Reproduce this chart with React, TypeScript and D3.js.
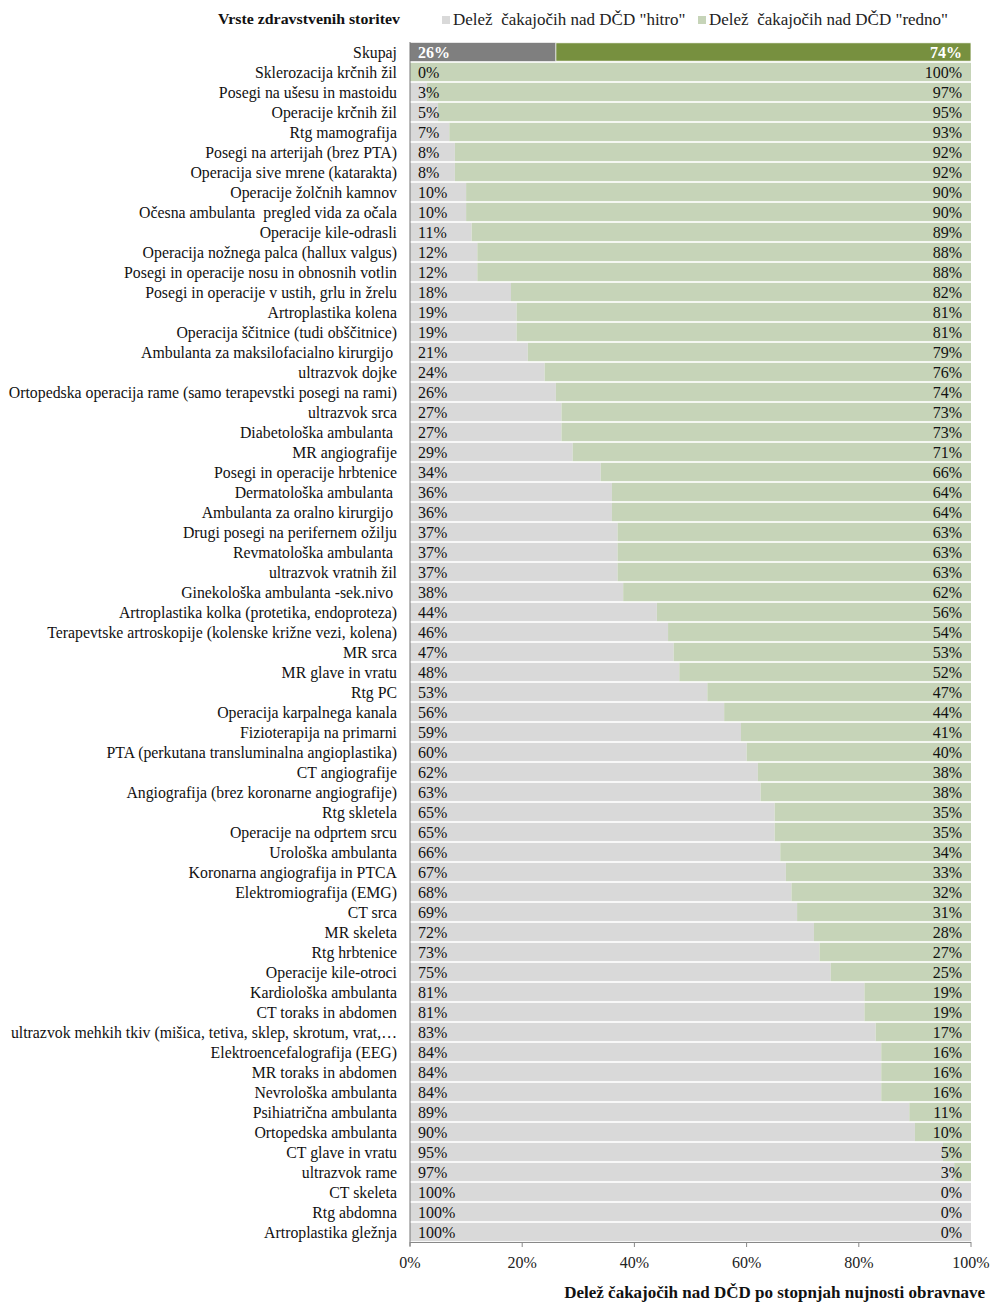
import React from "react";
import * as d3 from "d3";

// Service types, top to bottom
const categories: string[] = [
  "Skupaj",
  "Sklerozacija krčnih žil",
  "Posegi na ušesu in mastoidu",
  "Operacije krčnih žil",
  "Rtg mamografija",
  "Posegi na arterijah (brez PTA)",
  "Operacija sive mrene (katarakta)",
  "Operacije žolčnih kamnov",
  "Očesna ambulanta  pregled vida za očala",
  "Operacije kile-odrasli",
  "Operacija nožnega palca (hallux valgus)",
  "Posegi in operacije nosu in obnosnih votlin",
  "Posegi in operacije v ustih, grlu in žrelu",
  "Artroplastika kolena",
  "Operacija ščitnice (tudi obščitnice)",
  "Ambulanta za maksilofacialno kirurgijo ",
  "ultrazvok dojke",
  "Ortopedska operacija rame (samo terapevstki posegi na rami)",
  "ultrazvok srca",
  "Diabetološka ambulanta ",
  "MR angiografije",
  "Posegi in operacije hrbtenice",
  "Dermatološka ambulanta ",
  "Ambulanta za oralno kirurgijo ",
  "Drugi posegi na perifernem ožilju",
  "Revmatološka ambulanta ",
  "ultrazvok vratnih žil",
  "Ginekološka ambulanta -sek.nivo ",
  "Artroplastika kolka (protetika, endoproteza)",
  "Terapevtske artroskopije (kolenske križne vezi, kolena)",
  "MR srca",
  "MR glave in vratu",
  "Rtg PC",
  "Operacija karpalnega kanala",
  "Fizioterapija na primarni",
  "PTA (perkutana transluminalna angioplastika)",
  "CT angiografije",
  "Angiografija (brez koronarne angiografije)",
  "Rtg skletela",
  "Operacije na odprtem srcu",
  "Urološka ambulanta",
  "Koronarna angiografija in PTCA",
  "Elektromiografija (EMG)",
  "CT srca",
  "MR skeleta",
  "Rtg hrbtenice",
  "Operacije kile-otroci",
  "Kardiološka ambulanta",
  "CT toraks in abdomen",
  "ultrazvok mehkih tkiv (mišica, tetiva, sklep, skrotum, vrat,…",
  "Elektroencefalografija (EEG)",
  "MR toraks in abdomen",
  "Nevrološka ambulanta",
  "Psihiatrična ambulanta",
  "Ortopedska ambulanta",
  "CT glave in vratu",
  "ultrazvok rame",
  "CT skeleta",
  "Rtg abdomna",
  "Artroplastika gležnja",
];

// Share (%) of patients waiting past the allowed time, urgency "hitro"
const hitro: number[] = [
  26, 0, 3, 5, 7, 8, 8, 10, 10, 11, 12, 12, 18, 19, 19, 21, 24, 26, 27, 27,
  29, 34, 36, 36, 37, 37, 37, 38, 44, 46, 47, 48, 53, 56, 59, 60, 62, 62.5,
  65, 65, 66, 67, 68, 69, 72, 73, 75, 81, 81, 83, 84, 84, 84, 89, 90, 95, 97,
  100, 100, 100,
];

// Share (%) for urgency "redno"
const redno: number[] = [
  74, 100, 97, 95, 93, 92, 92, 90, 90, 89, 88, 88, 82, 81, 81, 79, 76, 74, 73,
  73, 71, 66, 64, 64, 63, 63, 63, 62, 56, 54, 53, 52, 47, 44, 41, 40, 38, 37.5,
  35, 35, 34, 33, 32, 31, 28, 27, 25, 19, 19, 17, 16, 16, 16, 11, 10, 5, 3, 0,
  0, 0,
];

const xTicks: number[] = [0, 20, 40, 60, 80, 100];

const seriesNames = ['Delež  čakajočih nad DČD "hitro"', 'Delež  čakajočih nad DČD "redno"'];
const axisTitle = "Delež čakajočih nad DČD po stopnjah nujnosti obravnave";
const categoryTitle = "Vrste zdravstvenih storitev";

const W = 992;
const H = 1303;
const FONT = '"Liberation Serif", "Times New Roman", serif';

const COL_HITRO = "#d9d9d9";
const COL_REDNO = "#c6d4b8";
const COL_HITRO_TOTAL = "#7f7f7f";
const COL_REDNO_TOTAL = "#77903f";

export default function App() {
  const x = d3.scaleLinear().domain([0, 100]).range([410, 971]);
  const y = d3
    .scaleBand<string>()
    .domain(categories.map((_, i) => String(i)))
    .range([42, 1242])
    .paddingInner(0.08)
    .paddingOuter(0.04);
  const fmt = (v: number) => `${Math.round(v)}%`;

  return (
    <svg
      width={W}
      height={H}
      style={{ display: "block", position: "absolute", left: 0, top: 0, background: "#fff" }}
      fontFamily={FONT}
    >
      <rect x={0} y={0} width={W} height={H} fill="#fff" />

      {/* Header: category title and legend */}
      <text x={218} y={24} fontSize={15.5} fontWeight="bold" fill="#111" textLength={182} lengthAdjust="spacingAndGlyphs">
        {categoryTitle}
      </text>
      <rect x={442} y={16} width={8} height={8} fill={COL_HITRO} />
      <text x={453} y={25} fontSize={17} fill="#222" style={{ whiteSpace: "pre" }}>
        {seriesNames[0]}
      </text>
      <rect x={698} y={16} width={8} height={8} fill={COL_REDNO} />
      <text x={709} y={25} fontSize={17} fill="#222" style={{ whiteSpace: "pre" }}>
        {seriesNames[1]}
      </text>

      {/* Bars */}
      {categories.map((c, i) => {
        const yy = y(String(i))!;
        const bh = y.bandwidth();
        const total = i === 0;
        const cy = yy + bh / 2;
        return (
          <g key={i}>
            <rect
              x={x(0)}
              y={yy}
              width={x(hitro[i]) - x(0)}
              height={bh}
              fill={total ? COL_HITRO_TOTAL : COL_HITRO}
            />
            <rect
              x={x(hitro[i])}
              y={yy}
              width={x(hitro[i] + redno[i]) - x(hitro[i])}
              height={bh}
              fill={total ? COL_REDNO_TOTAL : COL_REDNO}
              stroke={total ? "#fff" : "none"}
              strokeWidth={total ? 0.8 : 0}
            />
            <text
              x={397}
              y={cy}
              dy="0.35em"
              textAnchor="end"
              fontSize={15.8}
              fill="#111"
              style={{ whiteSpace: "pre" }}
            >
              {c}
            </text>
            <text
              x={x(0) + 8}
              y={cy}
              dy="0.35em"
              fontSize={16}
              fontWeight={total ? "bold" : "normal"}
              fill={total ? "#fff" : "#111"}
            >
              {fmt(hitro[i])}
            </text>
            <text
              x={x(100) - 9}
              y={cy}
              dy="0.35em"
              textAnchor="end"
              fontSize={16}
              fontWeight={total ? "bold" : "normal"}
              fill={total ? "#fff" : "#111"}
            >
              {fmt(redno[i])}
            </text>
          </g>
        );
      })}

      {/* Axes */}
      <line x1={x(0)} x2={x(0)} y1={42} y2={1246} stroke="#777" strokeWidth={1} />
      <line x1={x(0)} x2={x(100)} y1={1242.5} y2={1242.5} stroke="#888" strokeWidth={1} />
      {xTicks.map((t) => (
        <g key={t}>
          <line x1={x(t)} x2={x(t)} y1={1242} y2={1247} stroke="#888" />
          <text x={x(t)} y={1262} dy="0.35em" textAnchor="middle" fontSize={16} fill="#222">
            {t}%
          </text>
        </g>
      ))}

      <text x={985} y={1298} textAnchor="end" fontSize={17} fontWeight="bold" fill="#111">
        {axisTitle}
      </text>
    </svg>
  );
}
